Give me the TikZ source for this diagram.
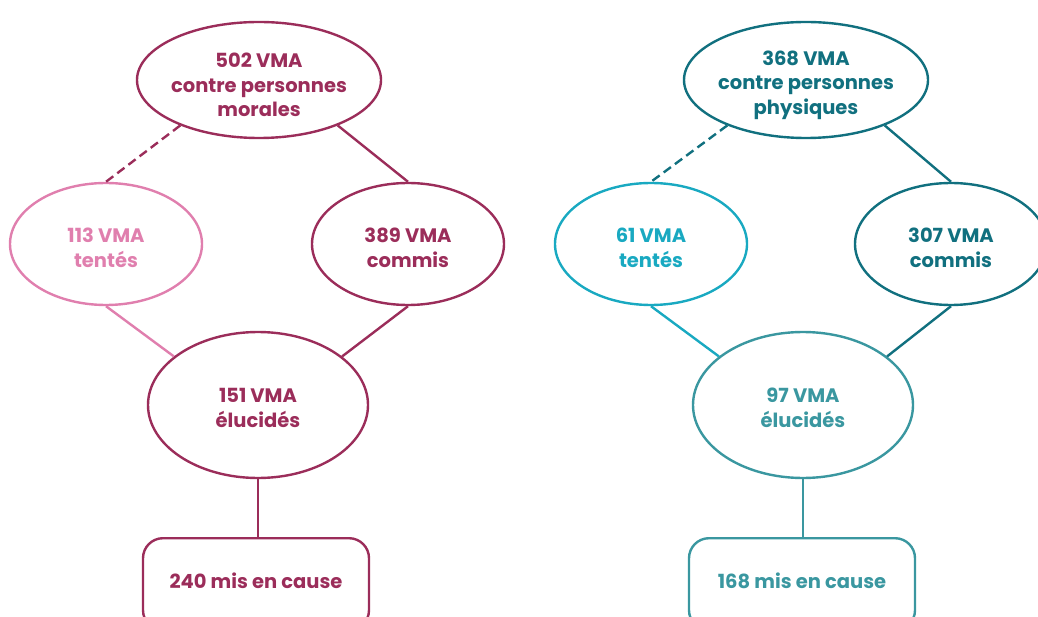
\documentclass[tikz,border=0pt]{standalone}
\usepackage{fontspec}
\setmainfont{Poppins}
\usetikzlibrary{shapes.geometric}
\definecolor{wine}{HTML}{9B2D5A}
\definecolor{rose}{HTML}{E07FAE}
\definecolor{petrol}{HTML}{11707F}
\definecolor{cyanb}{HTML}{19A9C1}
\definecolor{teal2}{HTML}{3A97A0}
\tikzset{
  lbl/.style={font=\bfseries\fontsize{19.5}{24.5}\selectfont, align=center, text=#1, inner sep=0pt},
  ell/.style={ellipse, draw=#1, line width=2.4pt, inner sep=0pt},
  topell/.style={ell=#1, minimum width=244pt, minimum height=116pt},
  midell/.style={ell=#1, minimum width=192pt, minimum height=122pt},
  botell/.style={ell=#1, minimum width=220pt, minimum height=146pt},
  resbox/.style={draw=#1, line width=2.4pt, rounded corners=20pt, minimum width=226pt, minimum height=92pt},
  link/.style={draw=#1, line width=2.4pt},
  dlink/.style={link=#1, dash pattern=on 9pt off 5pt},
}
\begin{document}
\begin{tikzpicture}[x=1pt,y=-1pt]
\useasboundingbox (0,0) rectangle (1038,617);
% left
\node[topell=wine] (t1) at (259,80) {};
\node[lbl=wine] (t1t) at (259,85) {502 VMA\\contre personnes\\morales};
\node[midell=rose] (a1) at (106,244) {};
\node[lbl=rose] (a1t) at (106,248) {113 VMA\\tentés};
\node[midell=wine] (c1) at (408,244) {};
\node[lbl=wine] (c1t) at (408,248) {389 VMA\\commis};
\node[botell=wine] (e1) at (258,405) {};
\node[lbl=wine] (e1t) at (258,408) {151 VMA\\élucidés};
\node[resbox=wine, anchor=north] (m1) at (256,537) {};
\node[lbl=wine] (m1t) at (256,581) {240 mis en cause};
\draw[dlink=wine] (t1.210) -- (a1.north);
\draw[link=wine] (t1.330) -- (c1.north);
\draw[link=rose] (a1.south) -- (e1.150);
\draw[link=wine] (c1.south) -- (e1.30);
\draw[link=wine] (e1.south) -- (e1.south |- m1.north);
% right
\node[topell=petrol] (t2) at (806,80) {};
\node[lbl=petrol] (t2t) at (806,85) {368 VMA\\contre personnes\\physiques};
\node[midell=cyanb] (a2) at (651,244) {};
\node[lbl=cyanb] (a2t) at (651,248) {61 VMA\\tentés};
\node[midell=petrol] (c2) at (951,244) {};
\node[lbl=petrol] (c2t) at (951,248) {307 VMA\\commis};
\node[botell=teal2] (e2) at (803,405) {};
\node[lbl=teal2] (e2t) at (803,408) {97 VMA\\élucidés};
\node[resbox=teal2, anchor=north] (m2) at (802,537) {};
\node[lbl=teal2] (m2t) at (802,581) {168 mis en cause};
\draw[dlink=petrol] (t2.210) -- (a2.north);
\draw[link=petrol] (t2.330) -- (c2.north);
\draw[link=cyanb] (a2.south) -- (e2.150);
\draw[link=petrol] (c2.south) -- (e2.30);
\draw[link=teal2] (e2.south) -- (e2.south |- m2.north);
\end{tikzpicture}
\end{document}
